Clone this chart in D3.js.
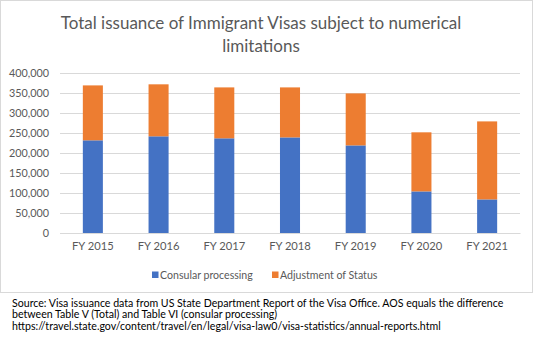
<!DOCTYPE html>
<html>
<head>
<meta charset="utf-8">
<script src="https://cdn.jsdelivr.net/npm/d3@7"></script>
<style>
  body { margin: 0; background: #fff; }
  svg { display: block; font-family: Lato, "Open Sans", sans-serif; }
</style>
</head>
<body>
<div class="chart"></div>
<script>
const years = ["FY 2015", "FY 2016", "FY 2017", "FY 2018", "FY 2019", "FY 2020", "FY 2021"];
const consular = [231700, 241700, 236700, 239000, 219000, 104000, 84000];
const adjustment = [137300, 130000, 127300, 125000, 130000, 147700, 195000];
const seriesNames = ["Consular processing", "Adjustment of Status"];
const colors = ["#4472c4", "#ed7d31"];
const yTicks = [0, 50000, 100000, 150000, 200000, 250000, 300000, 350000, 400000];
const sourceLines = [
  "Source: Visa issuance data from US State Department Report of the Visa Office. AOS equals the difference",
  "between Table V (Total) and Table VI (consular processing)",
  "https://travel.state.gov/content/travel/en/legal/visa-law0/visa-statistics/annual-reports.html"
];

const width = 534, height = 342;
const margin = {top: 73, right: 14, bottom: 109, left: 60};

const svg = d3.select(".chart").append("svg")
  .attr("width", width)
  .attr("height", height);

// chart box border
svg.append("rect")
  .attr("x", 0.5).attr("y", 0.5)
  .attr("width", 532).attr("height", 292)
  .attr("fill", "#fff")
  .attr("stroke", "#d9d9d9")
  .attr("stroke-width", 1);

svg.append("text")
  .attr("text-anchor", "middle")
  .attr("fill", "#595959")
  .attr("font-size", 17)
  .selectAll("tspan")
  .data(["Total issuance of Immigrant Visas subject to numerical", "limitations"])
  .join("tspan")
  .attr("x", 261)
  .attr("y", (d, i) => 28.5 + i * 23)
  .text(d => d);

const x = d3.scaleBand()
  .domain(years)
  .range([margin.left, width - margin.right])
  .paddingInner(0.695)
  .paddingOuter(0.3475);

const y = d3.scaleLinear()
  .domain([0, 400000])
  .range([233, 73]);

// gridlines
svg.append("g")
  .selectAll("line")
  .data(yTicks)
  .join("line")
  .attr("x1", margin.left)
  .attr("x2", width - margin.right)
  .attr("y1", d => Math.round(y(d)) + 0.5)
  .attr("y2", d => Math.round(y(d)) + 0.5)
  .attr("stroke", "#d9d9d9");

const yAxis = d3.axisLeft(y)
  .tickValues(yTicks)
  .tickFormat(d3.format(","))
  .tickSize(0)
  .tickPadding(11);

svg.append("g")
  .attr("transform", `translate(${margin.left},0)`)
  .call(yAxis)
  .call(g => g.select(".domain").remove())
  .call(g => g.selectAll("text")
    .attr("fill", "#595959")
    .attr("font-size", 10.8)
    .attr("font-family", "Lato, sans-serif"));

const stackData = years.map((yr, i) => ({year: yr, consular: consular[i], adjustment: adjustment[i]}));
const series = d3.stack().keys(["consular", "adjustment"])(stackData);

svg.append("g")
  .selectAll("g")
  .data(series)
  .join("g")
  .attr("fill", (d, i) => colors[i])
  .selectAll("rect")
  .data(d => d)
  .join("rect")
  .attr("x", d => x(d.data.year))
  .attr("width", x.bandwidth())
  .attr("y", d => y(d[1]))
  .attr("height", d => y(d[0]) - y(d[1]));

const xAxis = d3.axisBottom(x)
  .tickSize(0)
  .tickPadding(9);

svg.append("g")
  .attr("transform", `translate(0,233)`)
  .call(xAxis)
  .call(g => g.select(".domain").attr("stroke", "#d9d9d9"))
  .call(g => g.selectAll("text")
    .attr("fill", "#595959")
    .attr("font-size", 11.2)
    .attr("font-family", "Lato, sans-serif"));

// legend
const legendX = [152, 272];
const legend = svg.append("g")
  .selectAll("g")
  .data(seriesNames)
  .join("g")
  .attr("transform", (d, i) => `translate(${legendX[i]},271.5)`);

legend.append("rect")
  .attr("width", 6.5).attr("height", 6.5)
  .attr("fill", (d, i) => colors[i]);

legend.append("text")
  .attr("x", 8)
  .attr("y", 7)
  .attr("fill", "#595959")
  .attr("font-size", 10.6)
  .text(d => d);

// source note below the chart box
svg.append("text")
  .attr("fill", "#000")
  .attr("font-size", 10.6)
  .selectAll("tspan")
  .data(sourceLines)
  .join("tspan")
  .attr("x", 12)
  .attr("y", (d, i) => 307 + i * 11.3)
  .text(d => d);
</script>
</body>
</html>
